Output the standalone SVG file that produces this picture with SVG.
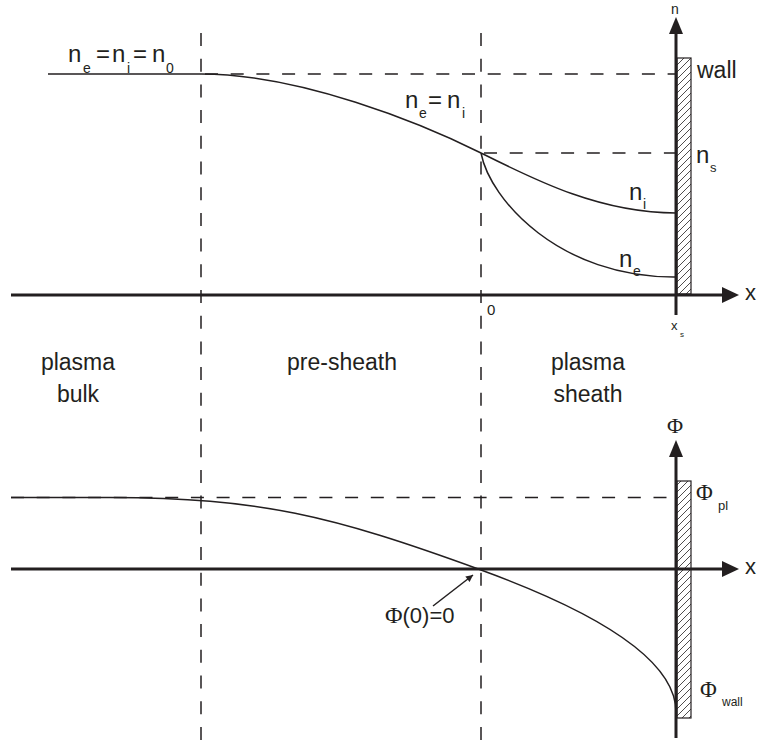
<svg xmlns="http://www.w3.org/2000/svg" width="757" height="742" viewBox="0 0 757 742">
<style>
.ax{stroke:#231f20;stroke-width:3;fill:none}
.ah{fill:#231f20;stroke:none}
.cv{stroke:#231f20;stroke-width:1.5;fill:none}
.ds{stroke:#231f20;stroke-width:1.5;fill:none;stroke-dasharray:13 12.7}
.wall{fill:url(#hatch);stroke:#231f20;stroke-width:1.2}
text{font-family:"Liberation Sans",Arial,sans-serif;fill:#231f20}
.big{font-size:24px}
.sub{font-size:14px}
.reg{font-size:23px;text-anchor:middle}
.phi{font-family:"Liberation Serif","Times New Roman",serif}
</style>
<defs>
<pattern id="hatch" patternUnits="userSpaceOnUse" width="7" height="7">
<path d="M0,7 L7,0 M-1,1 L1,-1 M6,8 L8,6" stroke="#231f20" stroke-width="0.8"/>
</pattern>
<marker id="sa" viewBox="0 0 10 10" refX="10" refY="5" markerWidth="9" markerHeight="7" markerUnits="userSpaceOnUse" orient="auto">
<path d="M0,0 L10,5 L0,10 Z" fill="#231f20"/>
</marker>
</defs>

<g id="connectors">
<line class="ds" x1="201" y1="33" x2="201" y2="742"/>
<line class="ds" x1="481" y1="33" x2="481" y2="742"/>
<line class="ds" x1="205" y1="74" x2="676" y2="74"/>
<line class="ds" x1="484" y1="153" x2="676" y2="153"/>
<line class="ds" x1="11" y1="497.5" x2="676" y2="497.5"/>
</g>

<g id="wall-top">
<rect class="wall" x="677" y="58" width="14" height="236"/>
</g>
<g id="wall-bottom">
<rect class="wall" x="677" y="481" width="14" height="237"/>
</g>

<g id="axes-top">
<line class="ax" x1="11" y1="295" x2="723" y2="295"/>
<polygon class="ah" points="722,287 739,295 722,303"/>
<line class="ax" x1="676" y1="315" x2="676" y2="32"/>
<polygon class="ah" points="669,34 676,17 683,34"/>
</g>
<g id="axes-bottom">
<line class="ax" x1="11" y1="569" x2="723" y2="569"/>
<polygon class="ah" points="722,561 739,569 722,577"/>
<line class="ax" x1="676" y1="738" x2="676" y2="455"/>
<polygon class="ah" points="669,457 676,440 683,457"/>
</g>

<g id="curves-density">
<path class="cv" d="M48,74 L201,74 C300,74 421,123 481,153"/>
<path class="cv" d="M481,153 C535,180 600,213 676,213"/>
<path class="cv" d="M481,153 C490,200 560,278 676,277"/>
</g>
<g id="curve-potential">
<path class="cv" d="M11,497.5 L110,497.5 C260,498 330,515 481,570 Q676,641 676,712"/>
<line class="cv" x1="433" y1="606" x2="473" y2="575" stroke-width="1.3" marker-end="url(#sa)"/>
</g>

<g id="labels-top">
<text class="big" x="68" y="62">n</text><text class="sub" x="83" y="73">e</text>
<text class="big" x="96" y="62">=</text>
<text class="big" x="112" y="62">n</text><text class="sub" x="127" y="73">i</text>
<text class="big" x="133" y="62">=</text>
<text class="big" x="152" y="62">n</text><text class="sub" x="166" y="73">0</text>

<text class="big" x="405" y="108">n</text><text class="sub" x="419" y="118">e</text>
<text class="big" x="428" y="108">=</text>
<text class="big" x="447" y="108">n</text><text class="sub" x="462" y="118">i</text>

<text x="697" y="78" font-size="23">wall</text>
<text class="big" x="696" y="163">n</text><text font-size="13" x="710" y="172">s</text>
<text class="big" x="629" y="200">n</text><text class="sub" x="643" y="209">i</text>
<text class="big" x="619" y="267">n</text><text class="sub" x="633" y="276">e</text>
<text x="671" y="14" font-size="14">n</text>
<text x="745" y="300" font-size="22">x</text>
<text x="487" y="315" font-size="15">0</text>
<text x="671" y="330" font-size="13">x</text><text x="680" y="337" font-size="8">s</text>
</g>

<g id="labels-regions">
<text class="reg" x="78" y="370">plasma</text>
<text class="reg" x="78" y="402">bulk</text>
<text class="reg" x="342" y="370">pre-sheath</text>
<text class="reg" x="588" y="370">plasma</text>
<text class="reg" x="588" y="402">sheath</text>
</g>

<g id="labels-bottom">
<text class="phi" x="667" y="433" font-size="22">Φ</text>
<text class="phi" x="696" y="500" font-size="23">Φ</text><text x="718" y="510" font-size="13">pl</text>
<text class="phi" x="700" y="697" font-size="23">Φ</text><text x="722" y="706" font-size="12">wall</text>
<text x="745" y="574" font-size="22">x</text>
<text x="385" y="623" font-size="22"><tspan class="phi" font-size="24">Φ</tspan>(0)=0</text>
</g>
</svg>
